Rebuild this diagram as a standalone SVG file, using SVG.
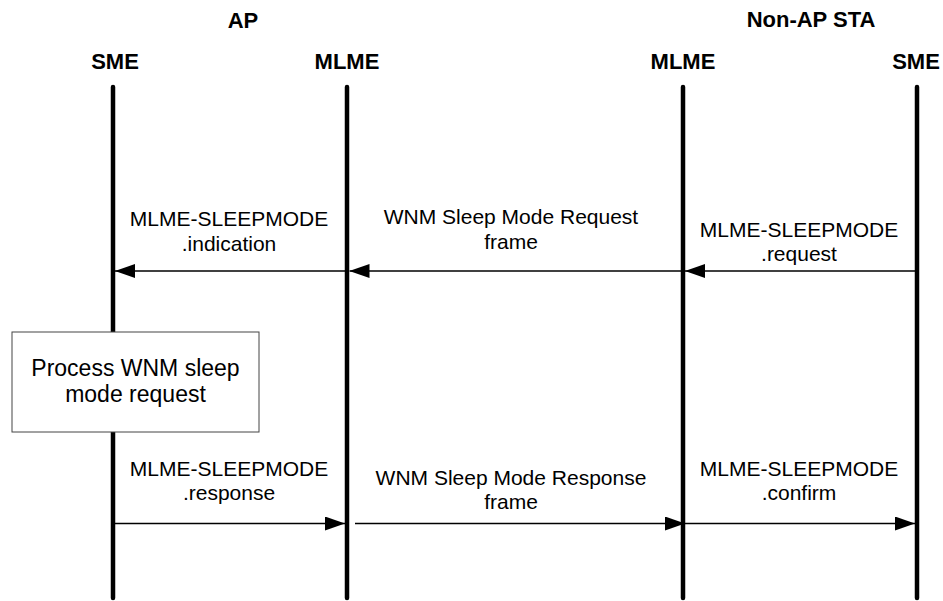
<svg xmlns="http://www.w3.org/2000/svg" width="943" height="601" viewBox="0 0 943 601">
<style>
.hd{font-family:"Liberation Sans",Arial,sans-serif;font-weight:bold;font-size:22px;fill:#000;text-anchor:middle}
.lb{font-family:"Liberation Sans",Arial,sans-serif;font-size:21px;fill:#000;text-anchor:middle}
.bx{font-family:"Liberation Sans",Arial,sans-serif;font-size:23px;fill:#000;text-anchor:middle}
.life{stroke:#000;stroke-width:4.5;stroke-linecap:round;fill:none}
.msg{stroke:#000;stroke-width:1.5;fill:none}
</style>
<defs>
<marker id="ah" viewBox="0 0 20 14" refX="20" refY="7" markerWidth="20" markerHeight="14" markerUnits="userSpaceOnUse" orient="auto">
<path d="M0,0 L20,7 L0,14 Z" fill="#000"/>
</marker>
</defs>
<rect width="943" height="601" fill="#fff"/>
<text class="hd" x="243" y="28">AP</text>
<text class="hd" x="811" y="27">Non-AP STA</text>
<g id="ap-sme">
<text class="hd" x="115" y="69">SME</text>
<line class="life" x1="113" y1="87" x2="113" y2="598"/>
</g>
<g id="ap-mlme">
<text class="hd" x="347" y="69">MLME</text>
<line class="life" x1="347" y1="87" x2="347" y2="598"/>
</g>
<g id="sta-mlme">
<text class="hd" x="683" y="69">MLME</text>
<line class="life" x1="683" y1="87" x2="683" y2="598"/>
</g>
<g id="sta-sme">
<text class="hd" x="916" y="69">SME</text>
<line class="life" x1="917" y1="87" x2="917" y2="598"/>
</g>
<g id="process">
<rect x="12" y="332" width="247" height="100" fill="#fff" stroke="#444" stroke-width="1"/>
<text class="bx" x="135.5" y="376">Process WNM sleep</text>
<text class="bx" x="135.5" y="402">mode request</text>
</g>
<g id="connectors">
<line class="msg" x1="917" y1="271" x2="685" y2="271" marker-end="url(#ah)"/>
<line class="msg" x1="683" y1="271" x2="349.5" y2="271" marker-end="url(#ah)"/>
<line class="msg" x1="347" y1="271" x2="115" y2="271" marker-end="url(#ah)"/>
<line class="msg" x1="113" y1="523.5" x2="345" y2="523.5" marker-end="url(#ah)"/>
<line class="msg" x1="355" y1="523.5" x2="685" y2="523.5" marker-end="url(#ah)"/>
<line class="msg" x1="683" y1="523.5" x2="915" y2="523.5" marker-end="url(#ah)"/>
<text class="lb" x="229" y="226">MLME-SLEEPMODE</text>
<text class="lb" x="229" y="251">.indication</text>
<text class="lb" x="511" y="224">WNM Sleep Mode Request</text>
<text class="lb" x="511" y="249">frame</text>
<text class="lb" x="799" y="237">MLME-SLEEPMODE</text>
<text class="lb" x="799" y="261">.request</text>
<text class="lb" x="229" y="476">MLME-SLEEPMODE</text>
<text class="lb" x="229" y="500">.response</text>
<text class="lb" x="511" y="485">WNM Sleep Mode Response</text>
<text class="lb" x="511" y="509">frame</text>
<text class="lb" x="799" y="476">MLME-SLEEPMODE</text>
<text class="lb" x="799" y="500">.confirm</text>
</g>
</svg>
